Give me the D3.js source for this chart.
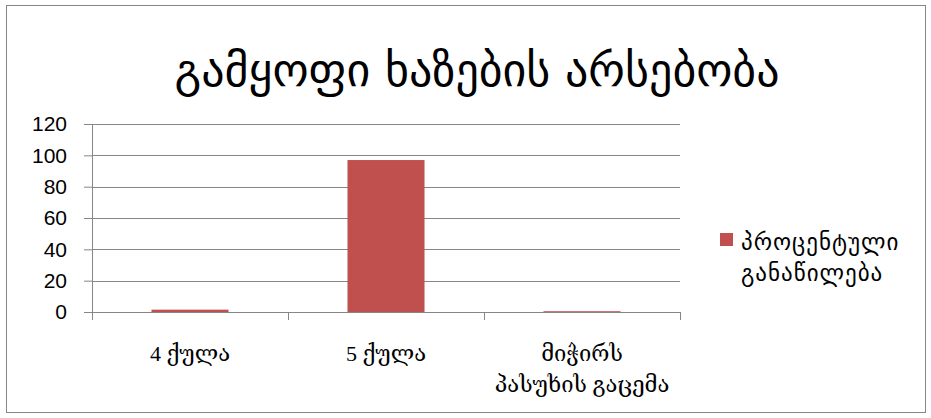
<!DOCTYPE html>
<html>
<head>
<meta charset="utf-8">
<script src="https://cdn.jsdelivr.net/npm/d3@7/dist/d3.min.js"></script>
<style>
  body { margin: 0; background: #fff; }
</style>
</head>
<body>
<div id="chart"></div>
<script>
// data
var categories = ["4 ქულა", "5 ქულა", "მიჭირს\nპასუხის გაცემა"];
var values = [1.5, 97, 0.5];
var yTicks = [0, 20, 40, 60, 80, 100, 120];
var seriesName = "პროცენტული განაწილება";
var title = "გამყოფი ხაზების არსებობა";

var W = 931, H = 418;
var margin = { top: 124, right: 251, bottom: 106, left: 92 };
var width = W - margin.left - margin.right,
    height = H - margin.top - margin.bottom;

var svg = d3.select("#chart")
    .append("svg")
    .attr("width", W)
    .attr("height", H);

// outer border
svg.append("rect")
    .attr("x", 6.5).attr("y", 5.5)
    .attr("width", 919).attr("height", 407)
    .attr("fill", "#fff")
    .attr("stroke", "#868686")
    .attr("stroke-width", 1);

svg.append("text")
    .attr("x", 477).attr("y", 86)
    .attr("text-anchor", "middle")
    .attr("font-family", "DejaVu Sans")
    .attr("font-size", "46px")
    .attr("fill", "#000")
    .text(title);

var g = svg.append("g")
    .attr("transform", "translate(" + margin.left + "," + margin.top + ")");

var x = d3.scaleBand().domain(categories).range([0, width]).paddingInner(0.607).paddingOuter(0.3035);
var y = d3.scaleLinear().domain([0, 120]).range([height, 0]);

// gridlines
g.selectAll(".grid")
    .data(yTicks.slice(1))
    .enter().append("line")
    .attr("x1", 0).attr("x2", width)
    .attr("y1", function(d) { return Math.round(y(d)) + 0.5; })
    .attr("y2", function(d) { return Math.round(y(d)) + 0.5; })
    .attr("stroke", "#868686");

// bars
g.selectAll(".bar")
    .data(values)
    .enter().append("rect")
    .attr("x", function(d, i) { return x(categories[i]); })
    .attr("y", function(d) { return y(d); })
    .attr("width", x.bandwidth())
    .attr("height", function(d) { return height - y(d); })
    .attr("fill", "#C0504D");

// y axis
var yAxis = g.append("g")
    .call(d3.axisLeft(y).tickValues(yTicks).tickSize(8).tickPadding(17));
yAxis.select(".domain").attr("stroke", "#868686").attr("d", "M0.5,0V" + height);
yAxis.selectAll(".tick line").attr("stroke", "#868686");
yAxis.selectAll("text")
    .attr("font-family", "Liberation Sans, DejaVu Sans")
    .attr("font-size", "21px")
    .attr("fill", "#000");

// x axis with ticks at category boundaries
var xa = g.append("g").attr("transform", "translate(0," + height + ")");
xa.append("line").attr("x1", 0).attr("x2", width).attr("y1", 0.5).attr("y2", 0.5).attr("stroke", "#868686");
xa.selectAll(".xt")
    .data(d3.range(categories.length + 1))
    .enter().append("line")
    .attr("x1", function(i) { return Math.round(i * width / categories.length) + 0.5; })
    .attr("x2", function(i) { return Math.round(i * width / categories.length) + 0.5; })
    .attr("y1", 0).attr("y2", 8)
    .attr("stroke", "#868686");

xa.selectAll(".xl")
    .data(categories)
    .enter().append("text")
    .attr("text-anchor", "middle")
    .attr("font-family", "Liberation Serif, DejaVu Serif")
    .attr("font-size", "22px")
    .attr("fill", "#000")
    .each(function(d) {
        var t = d3.select(this);
        var cx = x(d) + x.bandwidth() / 2;
        d.split("\n").forEach(function(line, k) {
            t.append("tspan").attr("x", cx).attr("y", 49 + k * 31).text(line);
        });
    });

// legend
svg.append("rect")
    .attr("x", 720).attr("y", 233)
    .attr("width", 13).attr("height", 13)
    .attr("fill", "#C0504D");
var lt = svg.append("text")
    .attr("font-family", "DejaVu Sans")
    .attr("font-size", "23px")
    .attr("letter-spacing", "1px")
    .attr("fill", "#000");
seriesName.split(" ").forEach(function(w, k) {
    lt.append("tspan").attr("x", 741).attr("y", 250 + k * 31).text(w);
});
</script>
</body>
</html>
